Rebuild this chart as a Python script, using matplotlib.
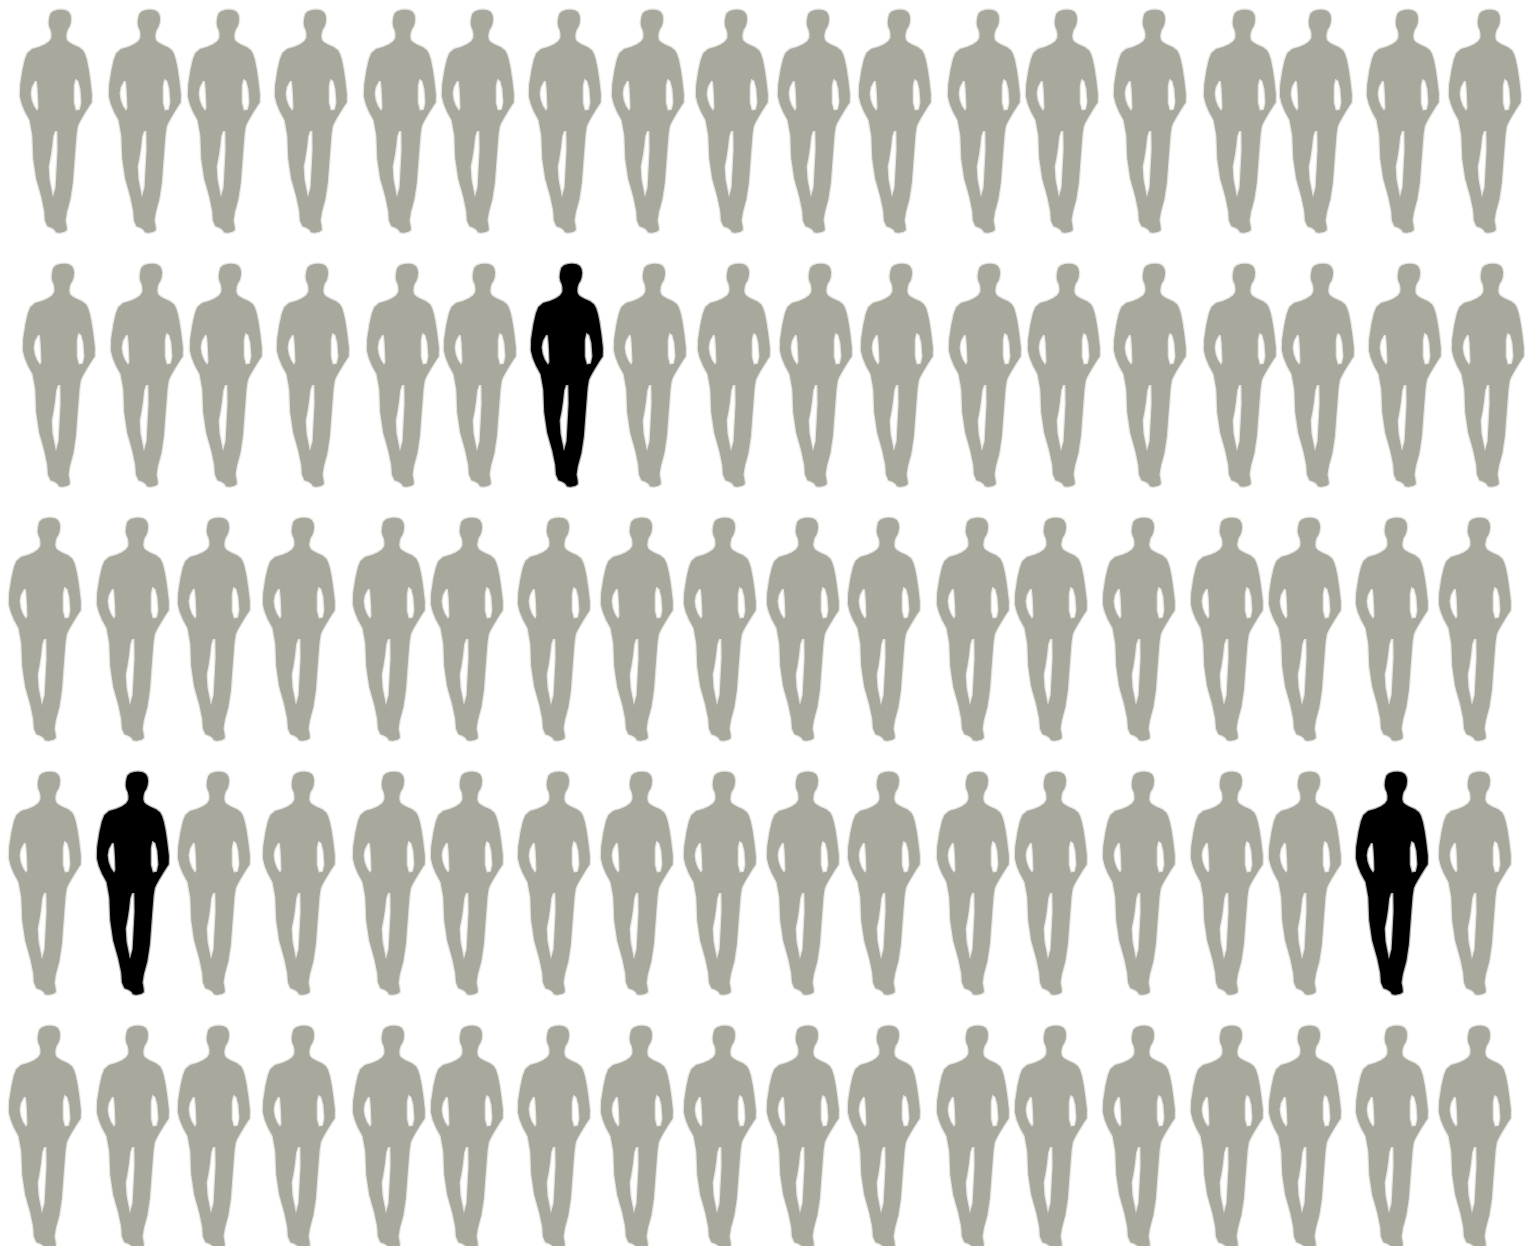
import numpy as np
import matplotlib
matplotlib.use('Agg')
import matplotlib.pyplot as plt
from matplotlib.path import Path
from matplotlib.patches import PathPatch
from matplotlib.transforms import Affine2D

# Figure centres (px) of each column, one list per row
row1_x = [56, 145, 224, 311, 400, 478, 565, 648, 732, 814, 895, 984, 1062, 1150, 1240, 1316, 1403, 1485]
row2_x = [59, 147, 226, 313, 403, 480, 567, 650, 734, 816, 897, 985, 1064, 1150, 1240, 1318, 1405, 1488]
row3_x = [45, 133, 214, 299, 389, 467, 554, 637, 720, 803, 884, 973, 1051, 1139, 1227, 1305, 1392, 1475]
row_x = [row1_x, row2_x, row3_x, row3_x, row3_x]

# Top of each row (px)
row_top = [10, 264, 518, 772, 1026]

# Highlighted people (row, column)
black = [(1, 6), (3, 1), (3, 16)]

gray_color = '#a9a89c'
black_color = '#000000'

body = [(119, 48), (125, 28), (150, 20), (176, 24), (186, 42), (183, 68), (172, 85), (170, 110),
        (182, 122), (218, 138), (230, 160), (240, 210), (250, 295), (238, 312), (212, 355), (203, 375),
        (197, 450), (188, 570), (167, 648), (172, 672), (172, 686), (142, 692), (134, 678), (108, 668),
        (104, 610), (73, 500), (68, 365), (40, 314), (29, 270), (43, 180), (58, 142), (100, 130),
        (126, 112), (127, 88), (118, 68)]
arm_left = [(82, 225), (62, 262), (68, 302), (88, 332), (86, 270)]
arm_right = [(193, 325), (218, 320), (212, 238), (193, 225)]
legs = [(115, 505), (136, 610), (148, 385), (133, 385), (126, 450)]


def smooth(points, rounds=1):
    # corner cutting, the outline comes out less angular
    pts = np.array(points, dtype=float)
    for i in range(rounds):
        nxt = np.roll(pts, -1, axis=0)
        pts = np.column_stack([0.75 * pts + 0.25 * nxt, 0.25 * pts + 0.75 * nxt]).reshape(-1, 2)
    return pts


def closed(points):
    pts = smooth(points)
    pts = np.vstack([pts, pts[0]])
    # crop was 3x, figure centre at x=140, top at y=22
    pts[:, 0] = (pts[:, 0] - 140) / 3
    pts[:, 1] = (pts[:, 1] - 22) / 3
    codes = [Path.MOVETO] + [Path.LINETO] * (len(pts) - 2) + [Path.CLOSEPOLY]
    return Path(pts, codes)


person = Path.make_compound_path(closed(body), closed(arm_left), closed(arm_right), closed(legs))

fig = plt.figure(figsize=(15.26, 12.46), dpi=100)
ax = fig.add_axes([0, 0, 1, 1])
ax.set_xlim(0, 1526)
ax.set_ylim(1246, 0)
ax.axis('off')

for r, top in enumerate(row_top):
    for c, x in enumerate(row_x[r]):
        color = black_color if (r, c) in black else gray_color
        place = Affine2D().translate(x, top) + ax.transData
        # soft halo first, the original is a slightly blurry raster
        ax.add_patch(PathPatch(person, facecolor='none', edgecolor=color, lw=1.8, alpha=0.3,
                               joinstyle='round', transform=place))
        ax.add_patch(PathPatch(person, facecolor=color, edgecolor='none', transform=place))

fig.savefig('out.png', dpi=100, facecolor='white')
